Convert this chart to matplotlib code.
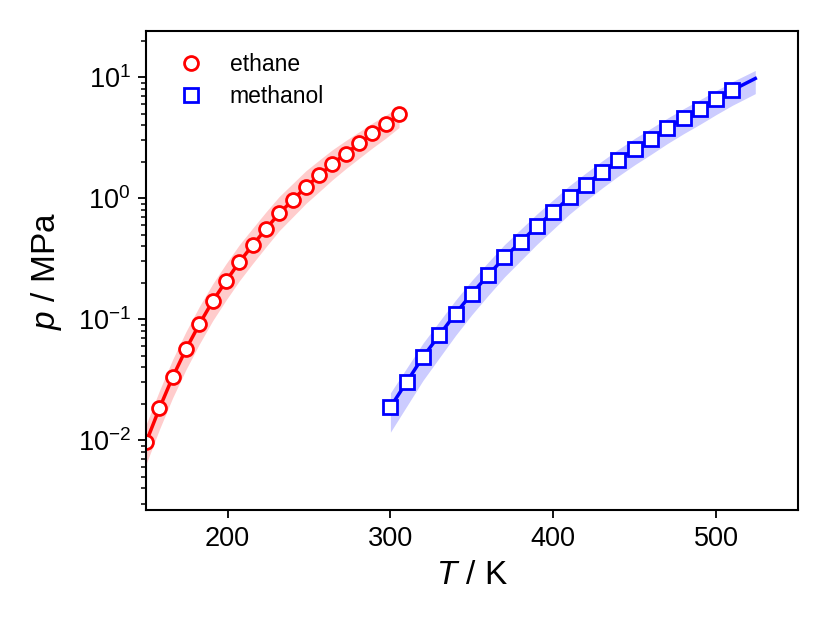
import matplotlib
matplotlib.use('Agg')
import matplotlib.pyplot as plt
from matplotlib.ticker import LogLocator, NullLocator

plt.rcParams['font.family'] = ['Liberation Sans', 'DejaVu Sans']
plt.rcParams['mathtext.fontset'] = 'custom'
plt.rcParams['mathtext.rm'] = 'Liberation Sans'
plt.rcParams['mathtext.it'] = 'Liberation Sans:italic'

# ethane: saturation points (T in K, p in MPa) and uncertainty band
T_ethane = [150.0, 158.2, 166.3, 174.5, 182.7, 190.9, 199.0, 207.2, 215.4, 223.6,
            231.7, 239.9, 248.1, 256.3, 264.4, 272.6, 280.8, 289.0, 297.1, 305.3]
p_ethane = [0.00962, 0.01837, 0.0332, 0.0565, 0.0910, 0.141, 0.206, 0.296, 0.409, 0.558,
            0.748, 0.962, 1.239, 1.542, 1.919, 2.339, 2.831, 3.428, 4.064, 4.920]
ethane_hi = [0.01347, 0.02572, 0.04648, 0.0791, 0.1274, 0.196, 0.2863, 0.4114, 0.5644, 0.770,
             1.032, 1.318, 1.685, 2.066, 2.514, 2.994, 3.539, 4.182, 4.836, 5.707]
ethane_lo = [0.00635, 0.01231, 0.02241, 0.03842, 0.06234, 0.0973, 0.1432, 0.2072, 0.2883, 0.3962,
             0.5386, 0.6975, 0.9045, 1.133, 1.420, 1.754, 2.137, 2.605, 3.129, 3.838]

# methanol: saturation points
T_methanol = [300, 310, 320, 330, 340, 350, 360, 370, 380, 390, 400,
              410, 420, 430, 440, 450, 460, 470, 480, 490, 500, 510]
p_methanol = [0.0188, 0.0303, 0.0488, 0.0738, 0.1114, 0.163, 0.231, 0.324, 0.436, 0.587, 0.771,
              1.014, 1.297, 1.641, 2.061, 2.553, 3.112, 3.793, 4.581, 5.470, 6.546, 7.816]
# model curve for methanol runs a bit past the last point
T_methanol_line = T_methanol + [524]
p_methanol_line = p_methanol + [9.75]
methanol_hi = [0.0246, 0.0395, 0.0634, 0.0956, 0.1437, 0.2095, 0.2957, 0.4131, 0.5537, 0.7426, 0.9715,
               1.2726, 1.617, 2.033, 2.537, 3.122, 3.781, 4.578, 5.493, 6.515, 7.744, 9.184, 11.36]
methanol_lo = [0.01166, 0.01909, 0.03123, 0.04797, 0.07352, 0.1092, 0.1571, 0.2236, 0.3052, 0.4168, 0.5551,
               0.7402, 0.9533, 1.214, 1.525, 1.889, 2.303, 2.826, 3.413, 4.075, 4.910, 5.862, 7.31]

fig = plt.figure(figsize=(8.3, 6.23), dpi=100)
ax = fig.add_axes([0.176, 0.181, 0.785, 0.769])

# bands
ax.fill_between(T_ethane, ethane_lo, ethane_hi, color='#ffcccc', lw=0)
ax.fill_between(T_methanol_line, methanol_lo, methanol_hi, color='#ccccff', lw=0)

# lines
ax.plot(T_ethane, p_ethane, color='red', lw=2.5)
ax.plot(T_methanol_line, p_methanol_line, color='blue', lw=2.5)

# points
ax.plot(T_ethane, p_ethane, 'o', ms=10, mfc='white', mec='red', mew=2, ls='none', label='ethane')
ax.plot(T_methanol, p_methanol, 's', ms=9.5, mfc='white', mec='blue', mew=2, ls='none', label='methanol')

ax.set_yscale('log')
ax.set_xlim(150, 550)
ax.set_ylim(2.64e-3, 24)
ax.set_xticks([200, 300, 400, 500])
ax.xaxis.set_minor_locator(NullLocator())
ax.yaxis.set_major_locator(LogLocator(base=10, numticks=10))
ax.yaxis.set_minor_locator(LogLocator(base=10, subs=range(2, 10), numticks=10))

ax.tick_params(axis='both', which='major', direction='out', length=6, width=1.3, labelsize=19.5, pad=5)
ax.tick_params(axis='y', which='minor', direction='out', length=3.5, width=1.1)
for s in ax.spines.values():
    s.set_linewidth(1.5)

ax.set_xlabel('$T$ / K', fontsize=24, labelpad=6)
ax.set_ylabel('$p$ / MPa', fontsize=24, labelpad=10)

ax.legend(loc='upper left', frameon=False, fontsize=16.5, handletextpad=0.7,
          borderaxespad=0.45, labelspacing=0.4, borderpad=0.5)

fig.savefig('out.png', dpi=100)
